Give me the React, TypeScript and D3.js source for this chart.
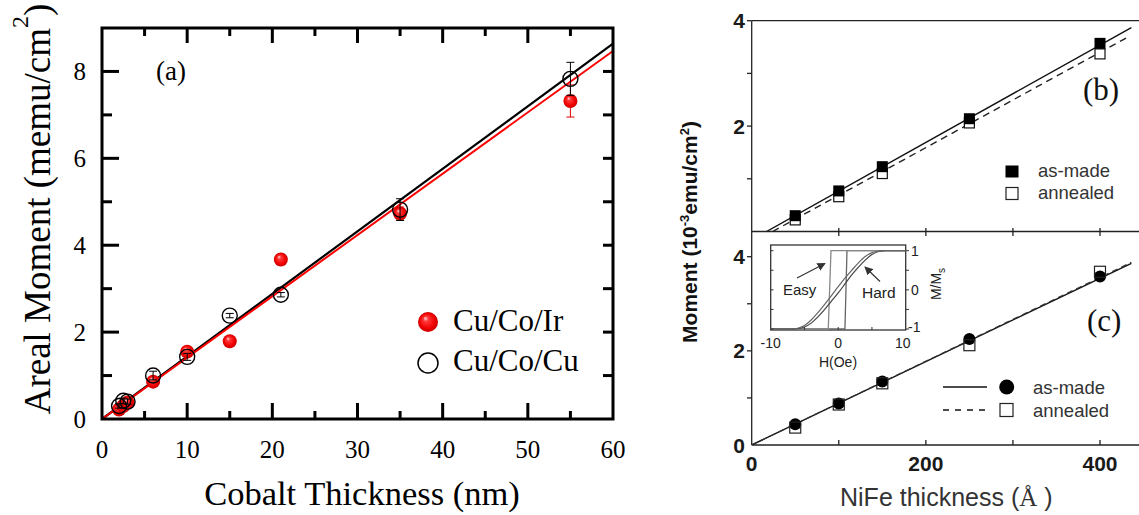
import React from 'react';
import * as d3 from 'd3';

// ---------- Panel (a) data ----------
const coThickness = [2, 2.5, 3, 6, 10, 15, 21, 35, 55];
const cuCoIr = [0.22, 0.3, 0.38, 0.86, 1.55, 1.79, 3.67, 4.73, 7.32];
const cuCoIrErr = [0.04, 0.04, 0.04, 0.05, 0.06, 0.05, 0.12, 0.15, 0.37];
const cuCoCu = [0.3, 0.42, 0.4, 1.0, 1.43, 2.38, 2.86, 4.82, 7.83];
const cuCoCuErr = [0.05, 0.06, 0.06, 0.1, 0.08, 0.05, 0.05, 0.25, 0.38];
const fitX = [0, 60];
const fitCuCoCu = [0, 8.64];
const fitCuCoIr = [0, 8.47];
const aXTicks = [0, 10, 20, 30, 40, 50, 60];
const aXMinor = [5, 15, 25, 35, 45, 55];
const aYTicks = [0, 2, 4, 6, 8];
const aYMinor = [1, 3, 5, 7];

// ---------- Panels (b) & (c) data ----------
const niFe = [50, 100, 150, 250, 400];
const bAsMade = [0.3, 0.77, 1.23, 2.14, 3.57];
const bAnnealed = [0.22, 0.66, 1.1, 2.06, 3.37];
const bFitSolidX = [17, 436];
const bFitSolidY = [0, 3.87];
const bFitDashX = [24, 431];
const bFitDashY = [0, 3.68];
const cAsMade = [0.44, 0.88, 1.35, 2.25, 3.58];
const cAnnealed = [0.37, 0.86, 1.31, 2.12, 3.68];
const cFitSolidX = [0, 436];
const cFitSolidY = [0, 3.86];
const cFitDashX = [0, 436];
const cFitDashY = [0, 3.88];
const rXTicks = [0, 100, 200, 300, 400];
const rXLabels = [0, 200, 400];
const rYTicks = [1, 2, 3, 4];
const bYLabels = [2, 4];
const cYLabels = [0, 2, 4];

// ---------- Inset data ----------
const insetH = [-10, -7, -6, -5, -4, -3, -2, -1, 0, 1, 2, 3, 4, 5, 6, 7, 10];
const hardRising = [-1, -1, -0.99, -0.95, -0.85, -0.69, -0.5, -0.29, -0.08, 0.15, 0.38, 0.58, 0.76, 0.9, 0.98, 1, 1];
const hardFalling = [-1, -1, -0.98, -0.91, -0.77, -0.58, -0.37, -0.15, 0.08, 0.3, 0.5, 0.69, 0.85, 0.95, 0.99, 1, 1];
const easyUpH = [-10, 1.0, 1.3, 10];
const easyUpM = [-1, -1, 1, 1];
const easyDownH = [10, -1.07, -1.47, -10];
const easyDownM = [1, 1, -1, -1];
const insetXTicks = [-10, 0, 10];
const insetYTicks = [-1, 0, 1];

const SERIF = '"Liberation Serif", "Times New Roman", serif';
const SANS = '"Liberation Sans", Arial, sans-serif';

export default function App() {
  // scales
  const xA = d3.scaleLinear().domain([0, 60]).range([102, 613]);
  const yA = d3.scaleLinear().domain([0, 9]).range([419, 28]);

  const xR = d3.scaleLinear().domain([0, 400]).range([751.7, 1100]);
  const yB = d3.scaleLinear().domain([0, 4]).range([231.5, 20.7]);
  const yC = d3.scaleLinear().domain([0, 4]).range([445, 256.7]);

  const xI = d3.scaleLinear().domain([-10, 10]).range([770.7, 905.7]);
  const yI = d3.scaleLinear().domain([-1, 1]).range([329, 250.7]);

  const lineA = (xs: number[], ys: number[]) =>
    d3.line<number>().x((_, i) => xA(xs[i])).y((d) => yA(d))(ys) || '';
  const lineB = (xs: number[], ys: number[]) =>
    d3.line<number>().x((_, i) => xR(xs[i])).y((d) => yB(d))(ys) || '';
  const lineC = (xs: number[], ys: number[]) =>
    d3.line<number>().x((_, i) => xR(xs[i])).y((d) => yC(d))(ys) || '';
  const lineI = (xs: number[], ys: number[], smooth = false) => {
    const g = d3.line<number>().x((_, i) => xI(xs[i])).y((d) => yI(d));
    if (smooth) g.curve(d3.curveMonotoneX);
    return g(ys) || '';
  };

  const rightEdge = 1139;
  const frameL = xA(0), frameR = xA(60), frameT = yA(9), frameB = yA(0);

  return (
    <div style={{ position: 'absolute', left: 0, top: 0 }}>
      <svg width={1139} height={515} style={{ display: 'block', background: '#fff' }}>
        <defs>
          <radialGradient id="ball" cx="0.5" cy="0.5" r="0.5" fx="0.36" fy="0.3">
            <stop offset="0" stopColor="#ffe6e6" />
            <stop offset="0.25" stopColor="#ff3a3a" />
            <stop offset="0.75" stopColor="#f00000" />
            <stop offset="1" stopColor="#c80000" />
          </radialGradient>
          <marker id="arr" viewBox="0 0 10 10" refX="9" refY="5" markerWidth="7" markerHeight="7" orient="auto">
            <path d="M0,0 L10,5 L0,10 z" fill="#333" />
          </marker>
          <clipPath id="clipB">
            <rect x={751.7} y={20.7} width={rightEdge - 751.7} height={231.5 - 20.7} />
          </clipPath>
          <clipPath id="clipC">
            <rect x={751.7} y={231.5} width={rightEdge - 751.7} height={445 - 231.5} />
          </clipPath>
        </defs>

        {/* ================= Panel (a) ================= */}
        <g>
          {/* fit lines */}
          <path d={lineA(fitX, fitCuCoCu)} stroke="#000" strokeWidth={2.2} fill="none" />
          <path d={lineA(fitX, fitCuCoIr)} stroke="#ff0000" strokeWidth={2} fill="none" />

          {/* red error bars + balls */}
          {coThickness.map((t, i) => (
            <g key={'re' + i} stroke="#e00000" strokeWidth={1}>
              <line x1={xA(t)} x2={xA(t)} y1={yA(cuCoIr[i] - cuCoIrErr[i])} y2={yA(cuCoIr[i] + cuCoIrErr[i])} />
              <line x1={xA(t) - 4} x2={xA(t) + 4} y1={yA(cuCoIr[i] - cuCoIrErr[i])} y2={yA(cuCoIr[i] - cuCoIrErr[i])} />
              <line x1={xA(t) - 4} x2={xA(t) + 4} y1={yA(cuCoIr[i] + cuCoIrErr[i])} y2={yA(cuCoIr[i] + cuCoIrErr[i])} />
            </g>
          ))}
          {coThickness.map((t, i) => (
            <circle key={'rb' + i} cx={xA(t)} cy={yA(cuCoIr[i])} r={7} fill="url(#ball)" />
          ))}
          {/* black error bars + open circles */}
          {coThickness.map((t, i) => (
            <g key={'be' + i} stroke="#000" strokeWidth={1}>
              <line x1={xA(t)} x2={xA(t)} y1={yA(cuCoCu[i] - cuCoCuErr[i])} y2={yA(cuCoCu[i] + cuCoCuErr[i])} />
              <line x1={xA(t) - 4} x2={xA(t) + 4} y1={yA(cuCoCu[i] - cuCoCuErr[i])} y2={yA(cuCoCu[i] - cuCoCuErr[i])} />
              <line x1={xA(t) - 4} x2={xA(t) + 4} y1={yA(cuCoCu[i] + cuCoCuErr[i])} y2={yA(cuCoCu[i] + cuCoCuErr[i])} />
            </g>
          ))}
          {coThickness.map((t, i) => (
            <circle key={'bc' + i} cx={xA(t)} cy={yA(cuCoCu[i])} r={7.5} fill="none" stroke="#000" strokeWidth={1.4} />
          ))}

          {/* frame */}
          <rect x={frameL} y={frameT} width={frameR - frameL} height={frameB - frameT} fill="none" stroke="#000" strokeWidth={3} />
          {/* ticks */}
          <g stroke="#000" strokeWidth={3}>
            {aXTicks.slice(1, -1).map((v) => (
              <g key={'axt' + v}>
                <line x1={xA(v)} x2={xA(v)} y1={frameB} y2={frameB - 16} />
                <line x1={xA(v)} x2={xA(v)} y1={frameT} y2={frameT + 15} />
              </g>
            ))}
            {aXMinor.map((v) => (
              <g key={'axm' + v}>
                <line x1={xA(v)} x2={xA(v)} y1={frameB} y2={frameB - 8} />
                <line x1={xA(v)} x2={xA(v)} y1={frameT} y2={frameT + 8} />
              </g>
            ))}
            {aYTicks.slice(1).map((v) => (
              <line key={'ayt' + v} x1={frameL} x2={frameL + 17} y1={yA(v)} y2={yA(v)} />
            ))}
            {aYMinor.map((v) => (
              <line key={'aym' + v} x1={frameL} x2={frameL + 10} y1={yA(v)} y2={yA(v)} />
            ))}
            {[...aYTicks.slice(1), ...aYMinor].map((v) => (
              <line key={'ayr' + v} x1={frameR} x2={frameR - 10} y1={yA(v)} y2={yA(v)} />
            ))}
          </g>
          {/* tick labels */}
          <g fontFamily={SERIF} fontSize={25} fill="#000">
            {aXTicks.map((v) => (
              <text key={'axl' + v} x={xA(v)} y={458} textAnchor="middle">{v}</text>
            ))}
            {aYTicks.map((v) => (
              <text key={'ayl' + v} x={86} y={yA(v)} dy="0.35em" textAnchor="end">{v}</text>
            ))}
          </g>
          {/* axis titles */}
          <text x={362} y={505} fontFamily={SERIF} fontSize={34.5} textAnchor="middle">Cobalt Thickness (nm)</text>
          <text transform="translate(50,209) rotate(-90)" fontFamily={SERIF} fontSize={37} textAnchor="middle">
            Areal Moment (memu/cm<tspan dy={-22} fontSize={24}>2</tspan><tspan dy={22}>)</tspan>
          </text>
          <text x={156} y={80} fontFamily={SERIF} fontSize={27}>(a)</text>

          {/* legend */}
          <circle cx={428} cy={322} r={10} fill="url(#ball)" />
          <text x={453} y={331} fontFamily={SERIF} fontSize={31}>Cu/Co/Ir</text>
          <circle cx={428} cy={363} r={10} fill="none" stroke="#000" strokeWidth={1.5} />
          <text x={453} y={371} fontFamily={SERIF} fontSize={31}>Cu/Co/Cu</text>
        </g>

        {/* ================= Panels (b) & (c) ================= */}
        <g>
          {/* panel (b) */}
          <g clipPath="url(#clipB)">
            <path d={lineB(bFitSolidX, bFitSolidY)} stroke="#111" strokeWidth={1.4} fill="none" />
            <path d={lineB(bFitDashX, bFitDashY)} stroke="#222" strokeWidth={1.4} fill="none" strokeDasharray="7,5" />
          </g>
          {niFe.map((v, i) => (
            <rect key={'ban' + i} x={xR(v) - 5} y={yB(bAnnealed[i]) - 5} width={10} height={10} fill="#fff" stroke="#111" strokeWidth={1.2} />
          ))}
          {niFe.map((v, i) => (
            <rect key={'bam' + i} x={xR(v) - 5.5} y={yB(bAsMade[i]) - 5.5} width={11} height={11} fill="#000" />
          ))}
          {/* panel (c) */}
          <g clipPath="url(#clipC)">
            <path d={lineC(cFitSolidX, cFitSolidY)} stroke="#111" strokeWidth={1.4} fill="none" />
            <path d={lineC(cFitDashX, cFitDashY)} stroke="#333" strokeWidth={1.2} fill="none" strokeDasharray="6,4" />
          </g>
          {niFe.map((v, i) => (
            <circle key={'cam' + i} cx={xR(v)} cy={yC(cAsMade[i])} r={6} fill="#000" />
          ))}
          {niFe.map((v, i) => (
            <rect key={'can' + i} x={xR(v) - 5.5} y={yC(cAnnealed[i]) - 5.5} width={11} height={11} fill="none" stroke="#222" strokeWidth={1.2} />
          ))}

          {/* frame lines */}
          <g stroke="#222" strokeWidth={1.3}>
            <line x1={751.7} x2={751.7} y1={20.7} y2={445} />
            <line x1={751.7} x2={rightEdge} y1={20.7} y2={20.7} />
            <line x1={751.7} x2={rightEdge} y1={231.5} y2={231.5} />
            <line x1={751.7} x2={rightEdge} y1={445} y2={445} />
            {rXTicks.slice(1).map((v) => (
              <g key={'rxt' + v}>
                <line x1={xR(v)} x2={xR(v)} y1={228} y2={236} />
                <line x1={xR(v)} x2={xR(v)} y1={445} y2={440} />
              </g>
            ))}
            {rYTicks.map((v) => (
              <g key={'ryt' + v}>
                <line x1={751.7} x2={747} y1={yB(v)} y2={yB(v)} />
                <line x1={751.7} x2={747} y1={yC(v)} y2={yC(v)} />
              </g>
            ))}
          </g>

          {/* tick labels */}
          <g fontFamily={SANS} fontWeight="bold" fontSize={21} fill="#1a1a1a">
            {bYLabels.map((v) => (
              <text key={'byl' + v} x={745} y={yB(v)} dy="0.36em" textAnchor="end">{v}</text>
            ))}
            {cYLabels.map((v) => (
              <text key={'cyl' + v} x={745} y={yC(v)} dy="0.36em" textAnchor="end">{v}</text>
            ))}
            {rXLabels.map((v) => (
              <text key={'rxl' + v} x={xR(v)} y={471} textAnchor="middle">{v}</text>
            ))}
          </g>
          {/* axis titles */}
          <text transform="translate(697,232) rotate(-90)" fontFamily={SANS} fontWeight="bold" fontSize={21} textAnchor="middle" fill="#111">
            Moment (10<tspan dy={-8} fontSize={13}>-3</tspan><tspan dy={8}>emu/cm</tspan><tspan dy={-8} fontSize={13}>2</tspan><tspan dy={8}>)</tspan>
          </text>
          <text x={840} y={506} fontFamily={SANS} fontSize={25} fill="#333">
            NiFe thickness (<tspan fontFamily={SERIF}>Å</tspan> )
          </text>

          {/* panel labels */}
          <text x={1083} y={100} fontFamily={SERIF} fontSize={31} fill="#111">(b)</text>
          <text x={1087} y={331} fontFamily={SERIF} fontSize={31} fill="#111">(c)</text>

          {/* legend (b) */}
          <rect x={1005.5} y={165.5} width={13} height={12} fill="#000" />
          <text x={1038} y={177} fontFamily={SANS} fontSize={18.5} fill="#333">as-made</text>
          <rect x={1006} y={187.5} width={12} height={12} fill="#fff" stroke="#222" strokeWidth={1.2} />
          <text x={1038} y={199} fontFamily={SANS} fontSize={18.5} fill="#333">annealed</text>

          {/* legend (c) */}
          <line x1={943} x2={987} y1={387} y2={387} stroke="#111" strokeWidth={1.3} />
          <circle cx={1006.7} cy={387} r={7.5} fill="#000" />
          <text x={1033} y={394} fontFamily={SANS} fontSize={18.5} fill="#333">as-made</text>
          <line x1={943} x2={987} y1={410} y2={410} stroke="#111" strokeWidth={1.3} strokeDasharray="6,6" />
          <rect x={1000} y={403.5} width={13} height={13} fill="#fff" stroke="#222" strokeWidth={1.2} />
          <text x={1033} y={417} fontFamily={SANS} fontSize={18.5} fill="#333">annealed</text>

          {/* ================= Inset ================= */}
          <g>
            <rect x={770.7} y={245} width={905.7 - 770.7} height={330 - 245} fill="#fff" stroke="#333" strokeWidth={1.3} />
            <path d={lineI(easyUpH, easyUpM)} stroke="#666" strokeWidth={1.3} fill="none" />
            <path d={lineI(easyDownH, easyDownM)} stroke="#888" strokeWidth={1.3} fill="none" />
            <path d={lineI(insetH, hardRising, true)} stroke="#444" strokeWidth={1.2} fill="none" />
            <path d={lineI(insetH, hardFalling, true)} stroke="#666" strokeWidth={1.2} fill="none" />
            <g stroke="#333" strokeWidth={1}>
              {[-1, -0.5, 0, 0.5, 1].map((v) => (
                <g key={'iyt' + v}>
                  <line x1={770.7} x2={773.5} y1={yI(v)} y2={yI(v)} />
                  <line x1={905.7} x2={909} y1={yI(v)} y2={yI(v)} />
                </g>
              ))}
              {[-5, 0, 5].map((v) => (
                <line key={'ixt' + v} x1={xI(v)} x2={xI(v)} y1={330} y2={327} />
              ))}
            </g>
            <g fontFamily={SANS} fontSize={14} fill="#222">
              {insetXTicks.map((v) => (
                <text key={'ixl' + v} x={xI(v) - (v > 0 ? 3 : 0)} y={348} textAnchor="middle">{v}</text>
              ))}
              {insetYTicks.map((v) => (
                <text key={'iyl' + v} x={v < 0 ? 908 : 911} y={yI(v) - (v < 0 ? 2 : 0)} dy="0.36em">{v}</text>
              ))}
              <text x={838} y={367} textAnchor="middle">H(Oe)</text>
              <text transform="translate(941,284) rotate(-90)" textAnchor="middle">
                M/M<tspan dy={4} fontSize={10}>s</tspan>
              </text>
              <text x={783} y={295} fontSize={15}>Easy</text>
              <text x={862} y={298} fontSize={15.5}>Hard</text>
            </g>
            <line x1={797} y1={278} x2={825} y2={263.5} stroke="#333" strokeWidth={1.2} markerEnd="url(#arr)" />
            <line x1={880} y1={281.5} x2={865} y2={267} stroke="#333" strokeWidth={1.2} markerEnd="url(#arr)" />
          </g>
        </g>
      </svg>
    </div>
  );
}
